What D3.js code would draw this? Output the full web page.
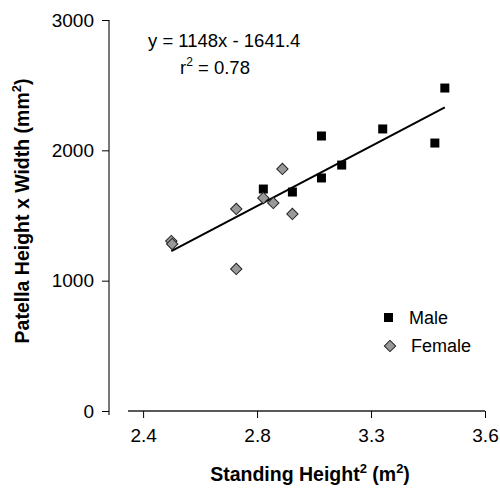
<!DOCTYPE html>
<html>
<head>
<meta charset="utf-8">
<script src="https://cdn.jsdelivr.net/npm/d3@7.9.0/dist/d3.min.js"></script>
<style>
  body { margin: 0; background: #fff; }
  svg { font-family: "Liberation Sans", Arial, sans-serif; }
</style>
</head>
<body>
<svg id="chart" width="500" height="491"></svg>
<script>
// standing height^2 (m^2) vs patella height x width (mm^2)
const maleX = [2.822, 2.924, 3.026, 3.026, 3.097, 3.241, 3.424, 3.459];
const maleY = [1703, 1680, 2110, 1788, 1887, 2164, 2056, 2478];
const femaleX = [2.499, 2.502, 2.727, 2.727, 2.822, 2.857, 2.889, 2.924];
const femaleY = [1304, 1281, 1550, 1090, 1634, 1596, 1857, 1512];

const xTicks = [2.4, 2.8, 3.2, 3.6];
const xTickLabels = ['2.4', '2.8', '3.3', '3.6'];
const yTicks = [0, 1000, 2000, 3000];

const slope = 1148, intercept = -1641.4;

const male = maleX.map((x, i) => ({ x, y: maleY[i] }));
const female = femaleX.map((x, i) => ({ x, y: femaleY[i] }));

const svg = d3.select('#chart');

const x = d3.scaleLinear().domain([2.347, 3.6]).range([128, 485]);
const y = d3.scaleLinear().domain([0, 3000]).range([411, 20]);

// y axis
const yAxis = svg.append('g')
  .attr('transform', 'translate(109,0)')
  .call(d3.axisLeft(y).tickValues(yTicks).tickSize(7).tickPadding(8).tickFormat(d3.format('d')));
yAxis.select('.domain').attr('stroke', '#777').attr('stroke-width', 2).attr('d', `M0,${y(3000)}V${y(0) + 4}`);
yAxis.selectAll('.tick line').attr('stroke', '#000');
yAxis.selectAll('.tick text').attr('font-size', 19).attr('fill', '#000');

// x axis
const xAxis = svg.append('g')
  .attr('transform', 'translate(0,411)')
  .call(d3.axisBottom(x).tickValues(xTicks).tickSize(7).tickPadding(11)
    .tickFormat((d, i) => xTickLabels[i]));
xAxis.select('.domain').attr('stroke', '#222').attr('stroke-width', 1.3).attr('d', `M${x.range()[0]},0H${x.range()[1]}`);
xAxis.selectAll('.tick line').attr('stroke', '#000');
xAxis.selectAll('.tick text').attr('font-size', 19).attr('fill', '#000');

// axis titles
const xt = svg.append('text')
  .attr('x', 310).attr('y', 481)
  .attr('text-anchor', 'middle')
  .attr('font-size', 19.5).attr('font-weight', 'bold');
xt.append('tspan').text('Standing Height');
xt.append('tspan').attr('dy', -8).attr('font-size', 13).text('2');
xt.append('tspan').attr('dy', 8).text(' (m');
xt.append('tspan').attr('dy', -8).attr('font-size', 13).text('2');
xt.append('tspan').attr('dy', 8).text(')');

const yt = svg.append('text')
  .attr('transform', 'translate(29,211) rotate(-90)')
  .attr('text-anchor', 'middle')
  .attr('font-size', 19.5).attr('font-weight', 'bold');
yt.append('tspan').text('Patella Height x Width (mm');
yt.append('tspan').attr('dy', -8).attr('font-size', 13).text('2');
yt.append('tspan').attr('dy', 8).text(')');

// trend line
const allX = maleX.concat(femaleX);
const xr = d3.extent(allX);
svg.append('line')
  .attr('x1', x(xr[0])).attr('y1', y(slope * xr[0] + intercept))
  .attr('x2', x(xr[1])).attr('y2', y(slope * xr[1] + intercept))
  .attr('stroke', '#000').attr('stroke-width', 2);

// points
svg.append('g').selectAll('rect')
  .data(male)
  .join('rect')
  .attr('x', d => x(d.x) - 4.5)
  .attr('y', d => y(d.y) - 4.5)
  .attr('width', 9).attr('height', 9)
  .attr('fill', '#000');

const diamond = d3.symbol().type(d3.symbolSquare).size(64);
svg.append('g').selectAll('path')
  .data(female)
  .join('path')
  .attr('d', diamond)
  .attr('transform', d => `translate(${x(d.x)},${y(d.y)}) rotate(45)`)
  .attr('fill', '#999').attr('stroke', '#222').attr('stroke-width', 1);

// equation
svg.append('text').attr('x', 148).attr('y', 47).attr('font-size', 18.5).text('y = 1148x - 1641.4');
const r2 = svg.append('text').attr('x', 180).attr('y', 74).attr('font-size', 18.5);
r2.append('tspan').text('r');
r2.append('tspan').attr('dy', -8).attr('font-size', 12).text('2');
r2.append('tspan').attr('dy', 8).text(' = 0.78');

// legend
const legend = svg.append('g');
legend.append('rect').attr('x', 384).attr('y', 313).attr('width', 9).attr('height', 9).attr('fill', '#000');
legend.append('text').attr('x', 409).attr('y', 324).attr('font-size', 18).text('Male');
legend.append('path').attr('d', diamond)
  .attr('transform', 'translate(390,346) rotate(45)')
  .attr('fill', '#999').attr('stroke', '#222').attr('stroke-width', 1);
legend.append('text').attr('x', 411).attr('y', 352).attr('font-size', 18).text('Female');
</script>
</body>
</html>
